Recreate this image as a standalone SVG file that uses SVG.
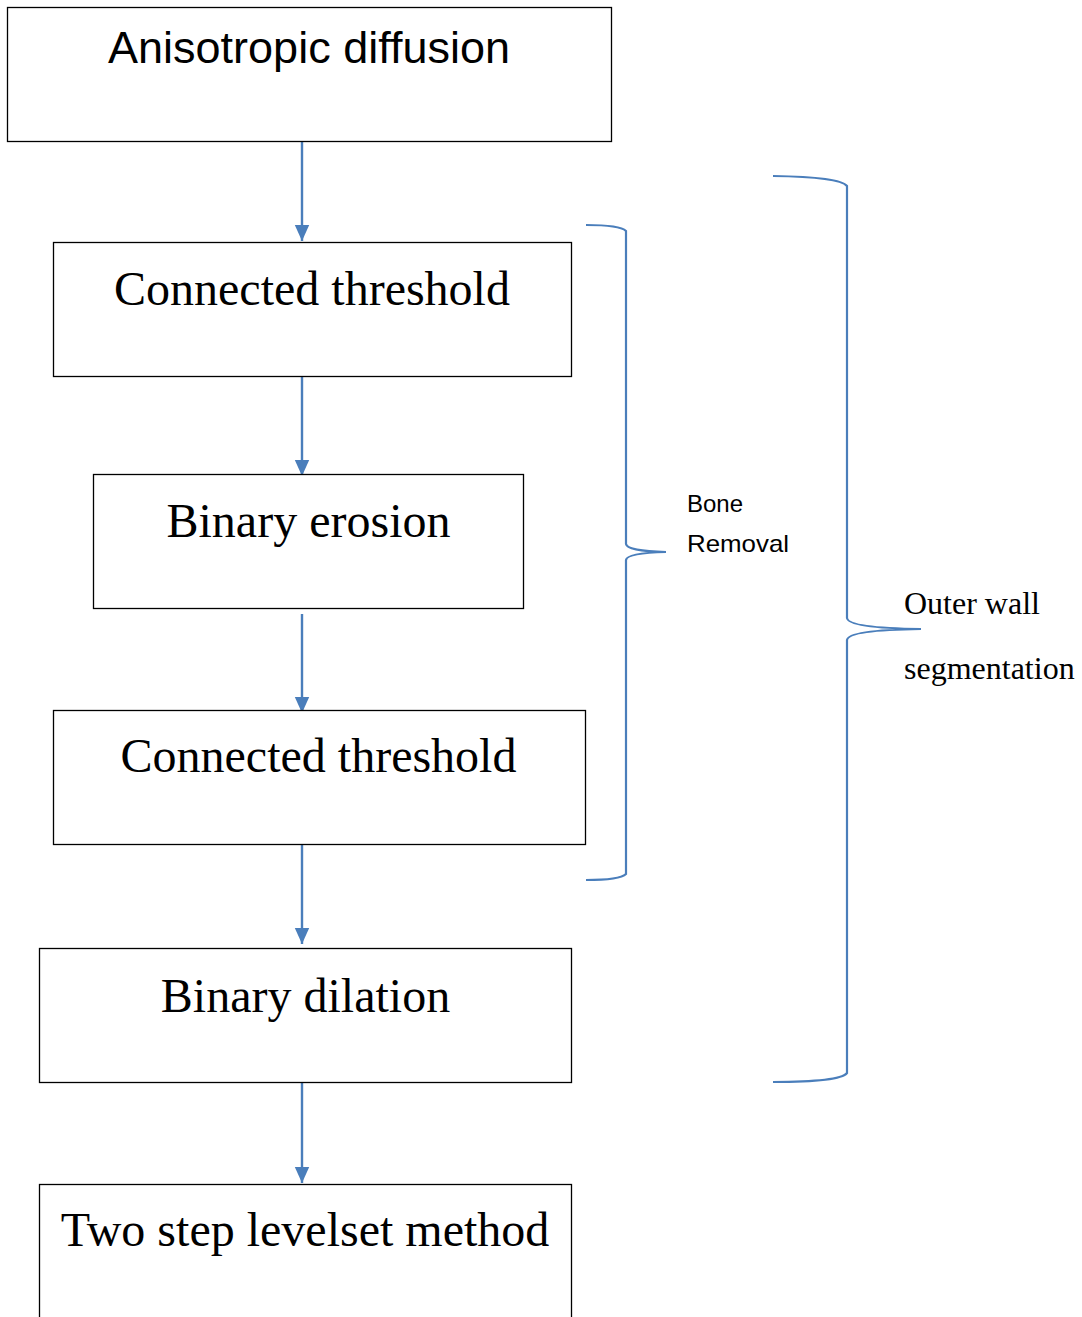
<svg xmlns="http://www.w3.org/2000/svg" width="1082" height="1317" viewBox="0 0 1082 1317">
<style>
.box{fill:#fff;stroke:#000;stroke-width:1.3}
.serif{font-family:"Liberation Serif","Times New Roman",serif;font-size:48px;fill:#000;text-anchor:middle}
.sans{font-family:"Liberation Sans",Arial,sans-serif;fill:#000}
.conn{stroke:#4A7EBB;stroke-width:2.4;fill:none}
.brace{stroke:#4A7EBB;stroke-width:2.2;fill:none}
</style>
<defs>
<marker id="arr" viewBox="0 0 10 10" refX="10" refY="5" markerWidth="16" markerHeight="16" orient="auto" markerUnits="userSpaceOnUse">
<path d="M0,0.5 L10,5 L0,9.5 z" fill="#4A7EBB"/>
</marker>
</defs>
<rect width="1082" height="1317" fill="#fff"/>
<g id="connectors">
<line class="conn" x1="302" y1="141" x2="302" y2="241" marker-end="url(#arr)"/>
<line class="conn" x1="302" y1="377" x2="302" y2="476" marker-end="url(#arr)"/>
<line class="conn" x1="302" y1="614" x2="302" y2="713" marker-end="url(#arr)"/>
<line class="conn" x1="302" y1="844" x2="302" y2="944" marker-end="url(#arr)"/>
<line class="conn" x1="302" y1="1083" x2="302" y2="1183" marker-end="url(#arr)"/>
</g>
<g id="n1">
<rect class="box" x="7.5" y="7.5" width="604" height="134"/>
<text class="sans" x="309" y="63" font-size="44" text-anchor="middle" textLength="402" lengthAdjust="spacingAndGlyphs">Anisotropic diffusion</text>
</g>
<g id="n2">
<rect class="box" x="53.5" y="242.5" width="518" height="134"/>
<text class="serif" x="312" y="305">Connected threshold</text>
</g>
<g id="n3">
<rect class="box" x="93.5" y="474.5" width="430" height="134"/>
<text class="serif" x="308.5" y="537">Binary erosion</text>
</g>
<g id="n4">
<rect class="box" x="53.5" y="710.5" width="532" height="134"/>
<text class="serif" x="318.5" y="772">Connected threshold</text>
</g>
<g id="n5">
<rect class="box" x="39.5" y="948.5" width="532" height="134"/>
<text class="serif" x="305.5" y="1012">Binary dilation</text>
</g>
<g id="n6">
<rect class="box" x="39.5" y="1184.5" width="532" height="150"/>
<text class="serif" x="305" y="1246">Two step levelset method</text>
</g>
<g id="bone-brace">
<path class="brace" d="M586,225 Q620,225 626,231 L626,544 Q627,551 666,552 Q627,553 626,560 L626,874 Q620,880 586,880"/>
<text class="sans" x="687" y="512" font-size="24">Bone</text>
<text class="sans" x="687" y="552" font-size="24" textLength="102" lengthAdjust="spacingAndGlyphs">Removal</text>
</g>
<g id="outer-brace">
<path class="brace" d="M773,176 Q840,177 847,186 L847,618 Q848,628 921,629 Q848,630 847,640 L847,1073 Q840,1082 773,1082"/>
<text x="904" y="614" font-family="Liberation Serif,Times New Roman,serif" font-size="32" fill="#000">Outer wall</text>
<text x="904" y="679" font-family="Liberation Serif,Times New Roman,serif" font-size="32" fill="#000">segmentation</text>
</g>
</svg>
